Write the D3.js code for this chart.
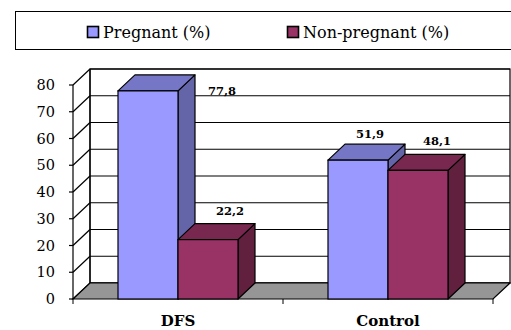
<!DOCTYPE html>
<html>
<head>
<meta charset="utf-8">
<script src="https://cdn.jsdelivr.net/npm/d3@7"></script>
<style>
  html, body { margin: 0; padding: 0; background: #fff; }
  svg { display: block; }
</style>
</head>
<body>
<svg id="chart" width="511" height="330"></svg>
<script>
// Chart data
const categories = ["DFS", "Control"];
const seriesNames = ["Pregnant (%)", "Non-pregnant (%)"];
const pregnant = [77.8, 51.9];
const nonPregnant = [22.2, 48.1];
const yTicks = [0, 10, 20, 30, 40, 50, 60, 70, 80];

// Face colours per series: front, top, side
const palette = [
  { front: "#9999ff", top: "#7676c6", side: "#6464a8" },
  { front: "#993366", top: "#78284f", side: "#62203f" }
];

// Data labels sit up-right of each bar; the tallest one is shifted to its side
const labelNudge = [[[57, 8], [5, -21]], [[-5, -18], [2, -21]]];

const svg = d3.select("#chart");

// 3D projection depth
const DX = 17, DY = -16;

const x0 = d3.scaleBand().domain(categories).range([73, 493]);
const x1 = d3.scaleBand().domain([0, 1]).range([0, 120]);
const y = d3.scaleLinear().domain([0, 80]).range([299, 85]);

const serif = "'DejaVu Serif', serif";

// Legend
const legend = svg.append("g");
legend.append("rect")
  .attr("x", 15.5).attr("y", 11.5).attr("width", 520).attr("height", 38)
  .attr("fill", "#fff").attr("stroke", "#000").attr("stroke-width", 1);
const legendX = [87, 287];
seriesNames.forEach((name, i) => {
  legend.append("rect")
    .attr("x", legendX[i] + 0.5).attr("y", 26.5).attr("width", 11).attr("height", 11)
    .attr("fill", palette[i].front).attr("stroke", "#000").attr("stroke-width", 1.6);
  legend.append("text")
    .attr("x", legendX[i] + 16).attr("y", 37.5)
    .attr("font-family", serif).attr("font-size", 16).attr("fill", "#000")
    .text(name);
});

// Walls and floor
const left = 73, right = 493;
const walls = svg.append("g");
// back wall
walls.append("rect")
  .attr("x", left + DX).attr("y", y(80) + DY)
  .attr("width", right - left).attr("height", y(0) - y(80))
  .attr("fill", "#fff").attr("stroke", "#000").attr("stroke-width", 1.2);
// gridlines on back wall and side wall
yTicks.forEach(t => {
  const yy = y(t);
  walls.append("line")
    .attr("x1", left + DX).attr("x2", right + DX)
    .attr("y1", yy + DY).attr("y2", yy + DY)
    .attr("stroke", "#000").attr("stroke-width", 1.2);
  walls.append("line")
    .attr("x1", left).attr("x2", left + DX)
    .attr("y1", yy).attr("y2", yy + DY)
    .attr("stroke", "#000").attr("stroke-width", 1.2);
});
// side wall back edge
walls.append("line")
  .attr("x1", left + DX).attr("x2", left + DX)
  .attr("y1", y(80) + DY).attr("y2", y(0) + DY)
  .attr("stroke", "#000").attr("stroke-width", 1.2);
// floor
walls.append("path")
  .attr("d", `M${left},${y(0)} L${right},${y(0)} L${right + DX},${y(0) + DY} L${left + DX},${y(0) + DY} Z`)
  .attr("fill", "#969696").attr("stroke", "#000").attr("stroke-width", 1.2);

// Y axis
const yAxis = svg.append("g");
yAxis.append("line")
  .attr("x1", left).attr("x2", left).attr("y1", y(80)).attr("y2", y(0))
  .attr("stroke", "#000").attr("stroke-width", 1.2);
yTicks.forEach(t => {
  yAxis.append("line")
    .attr("x1", left - 4).attr("x2", left).attr("y1", y(t)).attr("y2", y(t))
    .attr("stroke", "#000").attr("stroke-width", 1.2);
  yAxis.append("text")
    .attr("x", 55).attr("y", y(t) + 5)
    .attr("text-anchor", "end")
    .attr("font-family", serif).attr("font-size", 14.5).attr("fill", "#000")
    .text(t);
});

// X axis ticks at category boundaries
const xTickPos = [left].concat(categories.map(c => x0(c) + x0.bandwidth()));
xTickPos.forEach(px => {
  svg.append("line")
    .attr("x1", px).attr("x2", px).attr("y1", y(0)).attr("y2", y(0) + 5)
    .attr("stroke", "#000").attr("stroke-width", 1);
});

// Bars
const series = [pregnant, nonPregnant];
const bars = svg.append("g");
categories.forEach((cat, ci) => {
  const gx = x0(cat) + (x0.bandwidth() - 120) / 2;
  series.forEach((vals, si) => {
    const v = vals[ci];
    const xa = gx + x1(si), xb = xa + x1.bandwidth();
    const yt = y(v), yb = y(0);
    const c = palette[si];
    // side face
    bars.append("path")
      .attr("d", `M${xb},${yt} L${xb + DX},${yt + DY} L${xb + DX},${yb + DY} L${xb},${yb} Z`)
      .attr("fill", c.side).attr("stroke", "#000").attr("stroke-width", 1.2).attr("stroke-linejoin", "round");
    // top face
    bars.append("path")
      .attr("d", `M${xa},${yt} L${xa + DX},${yt + DY} L${xb + DX},${yt + DY} L${xb},${yt} Z`)
      .attr("fill", c.top).attr("stroke", "#000").attr("stroke-width", 1.2).attr("stroke-linejoin", "round");
    // front face
    bars.append("rect")
      .attr("x", xa).attr("y", yt).attr("width", xb - xa).attr("height", yb - yt)
      .attr("fill", c.front).attr("stroke", "#000").attr("stroke-width", 1.2);
  });
});

// Data labels
categories.forEach((cat, ci) => {
  const gx = x0(cat) + (x0.bandwidth() - 120) / 2;
  series.forEach((vals, si) => {
    const v = vals[ci];
    const cx = gx + x1(si) + x1.bandwidth() / 2 + DX;
    const nudge = labelNudge[ci][si];
    svg.append("text")
      .attr("x", cx + nudge[0]).attr("y", y(v) + DY + nudge[1] + 12)
      .attr("text-anchor", "middle")
      .attr("font-family", serif).attr("font-weight", "bold").attr("font-size", 11.5)
      .attr("fill", "#000")
      .text(String(v).replace(".", ","));
  });
});

// Category labels
categories.forEach(cat => {
  svg.append("text")
    .attr("x", x0(cat) + x0.bandwidth() / 2).attr("y", 326)
    .attr("text-anchor", "middle")
    .attr("font-family", serif).attr("font-weight", "bold").attr("font-size", 15)
    .attr("fill", "#000")
    .text(cat);
});
</script>
</body>
</html>
